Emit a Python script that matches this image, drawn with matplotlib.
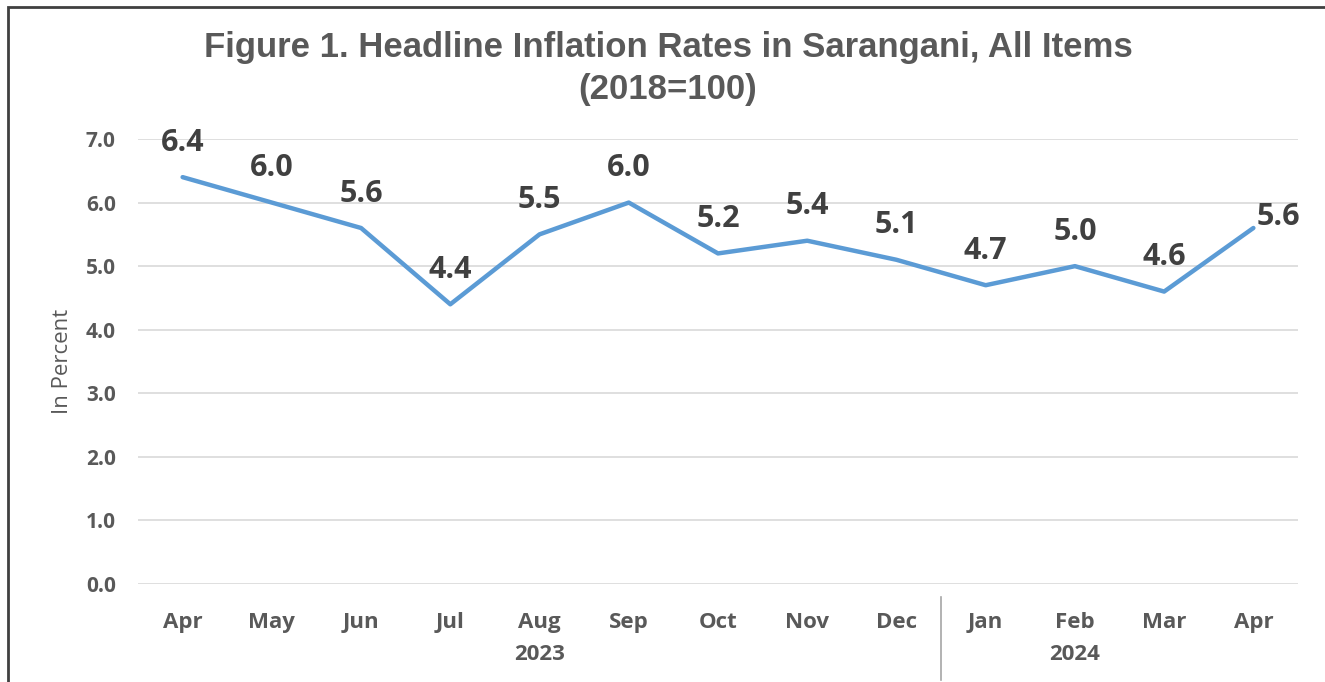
import matplotlib
matplotlib.use("Agg")
import matplotlib.pyplot as plt
from matplotlib.patches import Rectangle

months = ["Apr", "May", "Jun", "Jul", "Aug", "Sep", "Oct", "Nov", "Dec", "Jan", "Feb", "Mar", "Apr"]
values = [6.4, 6.0, 5.6, 4.4, 5.5, 6.0, 5.2, 5.4, 5.1, 4.7, 5.0, 4.6, 5.6]
years = ["2023", "2024"]
year_label_pos = [4, 10]
yticks = [0.0, 1.0, 2.0, 3.0, 4.0, 5.0, 6.0, 7.0]

W, H = 1325, 682
fig = plt.figure(figsize=(W / 100, H / 100), dpi=100)
ax = fig.add_axes([138 / W, 1 - 584 / H, (1298 - 138) / W, (584 - 139) / H])

x = list(range(len(months)))
ax.plot(x, values, color="#5B9BD5", linewidth=3.2, solid_capstyle="round", zorder=3)

for i, v in enumerate(values):
    dx, dy = 0, 19
    if i == len(values) - 1:
        dx, dy = 18, 2
    ax.annotate(f"{v:.1f}", (i, v), xytext=(dx, dy), textcoords="offset points",
                ha="center", va="baseline", fontsize=22, fontweight="bold",
                color="#404040", family="Open Sans", zorder=4)

ax.set_xlim(-0.5, len(months) - 0.5)
ax.set_ylim(0, 7)
ax.set_yticks(yticks)
ax.set_yticklabels([f"{t:.1f}" for t in yticks], fontsize=15, fontweight="bold",
                   color="#595959", family="Open Sans")
ax.set_xticks(x)
ax.set_xticklabels(months, fontsize=16, fontweight="bold", color="#595959", family="Open Sans")
ax.tick_params(axis="both", length=0)
ax.tick_params(axis="y", pad=16)
ax.tick_params(axis="x", pad=20)
ax.grid(axis="y", color="#D9D9D9", linewidth=1.2)
ax.set_axisbelow(True)
for s in ax.spines.values():
    s.set_visible(False)

ax.set_ylabel("In Percent", fontsize=16, color="#595959", family="Open Sans", labelpad=9)

for lbl, pos in zip(years, year_label_pos):
    fig.text((138 + (pos + 0.5) * (1160 / 13)) / W, 1 - 655 / H, lbl, ha="center", va="center",
             fontsize=16, fontweight="bold", color="#595959", family="Open Sans")

# divider between years
xd = (138 + 9 * (1160 / 13)) / W
fig.add_artist(plt.Line2D([xd, xd], [1 - 597 / H, 1 - 680 / H], color="#A6A6A6", linewidth=1.2))

fig.text(668 / W, 1 - 48 / H, "Figure 1. Headline Inflation Rates in Sarangani, All Items",
         ha="center", va="center", fontsize=25, fontweight="bold", color="#595959",
         family="Liberation Sans")
fig.text(668 / W, 1 - 90 / H, "(2018=100)", ha="center", va="center", fontsize=25,
         fontweight="bold", color="#595959", family="Liberation Sans")

# outer frame
fig.add_artist(Rectangle((8 / W, -0.1), 1.2, 1 - 7 / H + 0.1, transform=fig.transFigure,
                         fill=False, edgecolor="#404040", linewidth=2))

fig.savefig("out.png", dpi=100, facecolor="white")
